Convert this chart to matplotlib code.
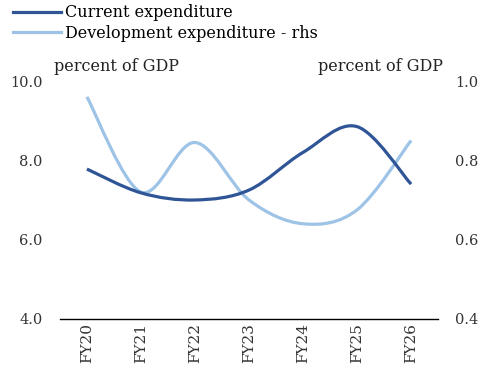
import matplotlib
matplotlib.use("Agg")
import matplotlib.pyplot as plt
from matplotlib.path import Path
from matplotlib.patches import PathPatch
from matplotlib.lines import Line2D

plt.rcParams['font.family'] = ['DejaVu Serif']

years = ['FY20', 'FY21', 'FY22', 'FY23', 'FY24', 'FY25', 'FY26']
current_exp = [7.78, 7.18, 7.0, 7.25, 8.2, 8.85, 7.4]
development_exp = [0.96, 0.72, 0.845, 0.70, 0.64, 0.675, 0.85]

DARK = '#2F5597'
LIGHT = '#9DC3E6'


def smooth_path(xs, ys):
    # Excel-style smoothed line as cubic Bezier segments
    pts = list(zip(xs, ys))
    verts = [pts[0]]
    codes = [Path.MOVETO]
    n = len(pts)
    for i in range(n - 1):
        p0 = pts[i - 1] if i > 0 else pts[i]
        p1 = pts[i]
        p2 = pts[i + 1]
        p3 = pts[i + 2] if i + 2 < n else pts[i + 1]
        c1 = (p1[0] + (p2[0] - p0[0]) / 6, p1[1] + (p2[1] - p0[1]) / 6)
        c2 = (p2[0] - (p3[0] - p1[0]) / 6, p2[1] - (p3[1] - p1[1]) / 6)
        verts += [c1, c2, p2]
        codes += [Path.CURVE4] * 3
    return Path(verts, codes)


fig = plt.figure(figsize=(4.83, 3.70), dpi=100)
ax = fig.add_axes([0.124, 0.138, 0.783, 0.643])
ax2 = ax.twinx()

x = list(range(len(years)))
ax.add_patch(PathPatch(smooth_path(x, current_exp), fill=False, edgecolor=DARK,
                       lw=2.3, capstyle='butt', zorder=3))
ax2.add_patch(PathPatch(smooth_path(x, development_exp), fill=False, edgecolor=LIGHT,
                        lw=2.3, capstyle='butt', zorder=2))
ax.set_zorder(ax2.get_zorder() + 1)
ax.patch.set_visible(False)

ax.set_xlim(-0.5, len(years) - 0.5)
ax.set_ylim(4, 10)
ax2.set_ylim(0.4, 1.0)
ax.set_yticks([4, 6, 8, 10])
ax.set_yticklabels(['4.0', '6.0', '8.0', '10.0'])
ax2.set_yticks([0.4, 0.6, 0.8, 1.0])
ax2.set_yticklabels(['0.4', '0.6', '0.8', '1.0'])
ax.set_xticks(x)
ax.set_xticklabels(years, rotation=90)

for a in (ax, ax2):
    for s in ['top', 'left', 'right']:
        a.spines[s].set_visible(False)
    a.tick_params(axis='y', length=0, labelsize=10.5, colors='#333333', pad=12.5)
ax2.spines['bottom'].set_visible(False)
ax.spines['bottom'].set_linewidth(1.0)
ax.tick_params(axis='x', length=0, labelsize=11, colors='#333333', pad=3)

ax.text(-0.015, 1.025, 'percent of GDP', transform=ax.transAxes, fontsize=11.5,
        color='#222222', ha='left', va='bottom')
ax.text(1.013, 1.025, 'percent of GDP', transform=ax.transAxes, fontsize=11.5,
        color='#222222', ha='right', va='bottom')

handles = [Line2D([], [], color=DARK, lw=2.3), Line2D([], [], color=LIGHT, lw=2.3)]
fig.legend(handles, ['Current expenditure', 'Development expenditure - rhs'],
           loc='upper left', bbox_to_anchor=(0.027, 0.988), frameon=False,
           fontsize=11.5, handlelength=3.0, handletextpad=0.25, labelspacing=0.2,
           borderaxespad=0.0, borderpad=0.0)

fig.savefig('out.png', dpi=100)
